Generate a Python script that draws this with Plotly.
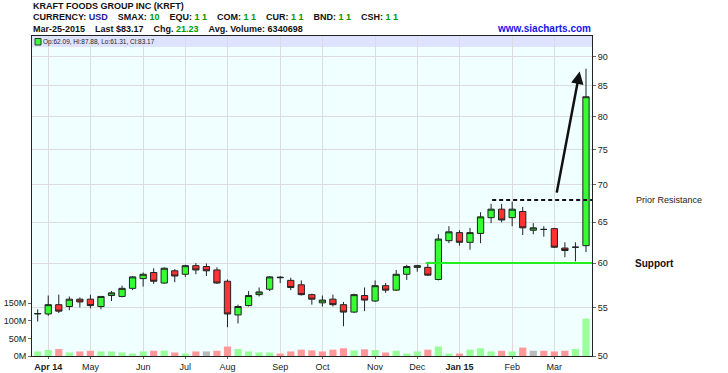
import math
import plotly.graph_objects as go

# ---------------- data ----------------
weeks = [
    "2014-03-24", "2014-03-31", "2014-04-07", "2014-04-14", "2014-04-21", "2014-04-28",
    "2014-05-05", "2014-05-12", "2014-05-19", "2014-05-26", "2014-06-02", "2014-06-09",
    "2014-06-16", "2014-06-23", "2014-06-30", "2014-07-07", "2014-07-14", "2014-07-21",
    "2014-07-28", "2014-08-04", "2014-08-11", "2014-08-18", "2014-08-25", "2014-09-01",
    "2014-09-08", "2014-09-15", "2014-09-22", "2014-09-29", "2014-10-06", "2014-10-13",
    "2014-10-20", "2014-10-27", "2014-11-03", "2014-11-10", "2014-11-17", "2014-11-24",
    "2014-12-01", "2014-12-08", "2014-12-15", "2014-12-22", "2014-12-29", "2015-01-05",
    "2015-01-12", "2015-01-19", "2015-01-26", "2015-02-02", "2015-02-09", "2015-02-16",
    "2015-02-23", "2015-03-02", "2015-03-09", "2015-03-16", "2015-03-23",
]
opens = [54.3, 54.3, 55.3, 55.1, 55.9, 55.9, 55.1, 56.3, 56.2, 57.1, 58.2, 58.9, 57.7,
         59.1, 58.7, 59.7, 59.6, 59.2, 57.9, 54.2, 55.2, 56.4, 57.0, 58.3, 58.0, 57.5,
         56.4, 55.5, 55.9, 55.3, 54.5, 56.3, 55.7, 57.4, 56.9, 58.7, 59.5, 59.5, 58.1,
         62.7, 63.7, 62.5, 63.6, 65.6, 66.7, 65.6, 66.4, 64.0, 64.1, 64.2, 61.8, 61.9, 62.09]
highs = [54.8, 56.3, 56.4, 56.2, 56.1, 56.4, 56.2, 56.8, 57.4, 58.5, 58.9, 59.4, 59.5,
         59.3, 59.8, 60.0, 59.95, 59.5, 58.1, 55.3, 56.8, 57.2, 58.5, 58.5, 58.3, 58.0,
         56.5, 56.3, 56.4, 55.6, 56.5, 57.2, 58.0, 57.7, 59.2, 59.8, 59.8, 60.0, 63.5,
         64.5, 64.0, 64.3, 66.3, 67.4, 67.4, 67.7, 67.0, 64.9, 64.5, 64.3, 62.5, 62.5, 87.88]
lows = [53.5, 54.1, 54.4, 54.7, 55.0, 54.9, 54.8, 55.7, 56.1, 56.9, 57.3, 57.6, 57.6,
        57.8, 58.4, 58.7, 58.5, 57.6, 52.9, 53.3, 55.1, 56.2, 56.8, 57.7, 56.9, 56.3,
        55.3, 55.1, 55.1, 53.0, 54.4, 54.6, 55.6, 56.6, 56.8, 58.05, 59.0, 58.5, 58.0,
        62.4, 62.1, 61.6, 62.4, 64.9, 65.0, 64.5, 63.4, 63.5, 63.2, 61.8, 60.7, 60.2, 61.31]
closes = [54.35, 55.3, 54.6, 55.9, 55.6, 55.2, 56.2, 56.6, 57.1, 58.4, 58.7, 57.9, 59.4,
          58.5, 59.7, 59.2, 59.1, 57.7, 54.3, 55.1, 56.3, 56.7, 58.4, 58.35, 57.2, 56.4,
          55.9, 55.8, 55.3, 54.5, 56.4, 55.8, 57.4, 56.9, 58.7, 59.6, 59.7, 58.6, 62.9,
          63.8, 62.5, 63.7, 65.7, 66.7, 65.3, 66.7, 64.3, 64.3, 64.1, 61.9, 61.5, 61.9, 83.17]
volumes_m = [13, 17, 20, 10, 13, 15, 13, 13, 10, 7, 13, 15, 15, 10, 7, 13, 13, 15, 27, 20,
             13, 10, 10, 7, 13, 18, 16, 13, 18, 22, 16, 19, 17, 10, 15, 7, 13, 18, 27, 7,
             7, 18, 22, 13, 15, 13, 24, 15, 15, 13, 15, 20, 106]
vol_dir = ["u", "u", "d", "u", "d", "d", "u", "u", "u", "u", "u", "d", "u", "d", "u", "d",
           "n", "d", "d", "u", "u", "u", "u", "d", "d", "d", "d", "d", "d", "d", "u", "d",
           "u", "d", "u", "u", "u", "d", "u", "u", "d", "u", "u", "u", "d", "u", "d", "n",
           "d", "d", "d", "u", "u"]

month_ticks = ["2014-03-31", "2014-04-28", "2014-06-02", "2014-06-30", "2014-07-28",
               "2014-09-01", "2014-09-29", "2014-11-03", "2014-12-01", "2014-12-29",
               "2015-02-02", "2015-03-02"]
month_labels = ["<b>Apr 14</b>", "May", "Jun", "Jul", "Aug", "Sep", "Oct", "Nov", "Dec",
                "<b>Jan 15</b>", "Feb", "Mar"]
price_ticks = [50, 55, 60, 65, 70, 75, 80, 85, 90]
vol_ticks_m = [0, 50, 100, 150]

support_level = 60
resistance_level = 67.9
arrow_from = (49.2, 68.7)
arrow_to = (51.4, 87.4)

# ---------------- styles ----------------
FONT = "Liberation Sans, Arial, sans-serif"
GREEN_BODY = "#33FF33"
RED_BODY = "#FF3333"
VOL_COL = {"u": "#99FF99", "d": "#FF9999", "n": "#BBBBBB"}

W, H = 728, 373
L, R, T, B = 32, 136, 36, 17
PW, PH = W - L - R, H - T - B


def px(xp):
    return (xp - L) / PW


def py(yp):
    return (H - B - yp) / PH


fig = go.Figure()

fig.add_trace(go.Bar(
    x=weeks, y=[v * 1e6 for v in volumes_m],
    marker=dict(color=[VOL_COL[d] for d in vol_dir], line=dict(width=0)),
    yaxis="y", hoverinfo="skip", showlegend=False,
))

fig.add_trace(go.Candlestick(
    x=weeks, open=opens, high=highs, low=lows, close=closes,
    yaxis="y2", showlegend=False,
    increasing=dict(fillcolor=GREEN_BODY, line=dict(color="#222222", width=1)),
    decreasing=dict(fillcolor=RED_BODY, line=dict(color="#222222", width=1)),
    whiskerwidth=0,
))

grid = "#DCDCDC"
fig.update_layout(
    width=W, height=H, autosize=False,
    margin=dict(l=L, r=R, t=T, b=B, pad=0, autoexpand=False),
    showlegend=False,
    paper_bgcolor="white",
    plot_bgcolor="#F0FFFF",
    bargap=0.32,
    boxgap=0.15,
    font=dict(family=FONT, size=9, color="#333333"),
    xaxis=dict(
        type="category", range=[-0.54, 52.57], automargin=False,
        tickmode="array", tickvals=month_ticks, ticktext=month_labels,
        showgrid=True, gridcolor=grid, gridwidth=1,
        showline=True, linecolor="#222222", linewidth=1, mirror=True,
        ticks="outside", ticklen=2, tickcolor="#666666",
        tickfont=dict(size=9, color="#222222"),
        rangeslider=dict(visible=False), fixedrange=True,
    ),
    yaxis=dict(
        range=[0, 910e6], side="left", automargin=False,
        tickmode="array", tickvals=[v * 1e6 for v in vol_ticks_m],
        ticktext=[f"{v}M" for v in vol_ticks_m],
        showgrid=False, zeroline=False,
        showline=True, linecolor="#222222", linewidth=1, mirror=True,
        ticks="outside", ticklen=3, tickcolor="#666666",
        tickfont=dict(size=9, color="#222222"),
    ),
    yaxis2=dict(
        type="log", range=[math.log10(50), math.log10(93.7)], automargin=False,
        overlaying="y", side="right",
        tickmode="array", tickvals=price_ticks, ticktext=[str(v) for v in price_ticks],
        showgrid=True, gridcolor=grid, gridwidth=1, zeroline=False,
        ticks="outside", ticklen=3, tickcolor="#666666",
        tickfont=dict(size=9, color="#222222"),
    ),
)

shapes = [
    # top info band
    dict(type="rect", xref="paper", yref="paper", x0=0, x1=1, y0=py(47), y1=1,
         fillcolor="#DEE4FF", line=dict(width=0), layer="below"),
    # legend square
    dict(type="rect", xref="paper", yref="paper", x0=px(35), x1=px(41), y0=py(45), y1=py(38.5),
         fillcolor=GREEN_BODY, line=dict(color="#333333", width=1)),
    # support line
    dict(type="line", xref="x", yref="y2", x0=36.8, x1=52.57, y0=support_level, y1=support_level,
         line=dict(color="#22EE22", width=2)),
    # prior resistance line
    dict(type="line", xref="x", yref="y2", x0=43.1, x1=52.57, y0=resistance_level, y1=resistance_level,
         line=dict(color="#111111", width=2, dash="4px,3px")),
]
fig.update_layout(shapes=shapes)

green = "#009900"
navy = "#1A1A99"
sp = "\u00a0"
gap = sp * 4

ann = []
ann.append(dict(xref="paper", yref="paper", x=px(31), y=py(6), xanchor="left", yanchor="middle",
                text="<b>KRAFT FOODS GROUP INC (KRFT)</b>", showarrow=False,
                font=dict(size=9, color="#111111", family=FONT)))
g11 = f"<span style='color:{green}'>1{sp}1</span>"
line2 = (f"<b>CURRENCY:{sp}<span style='color:{navy}'>USD</span>{gap}SMAX:{sp}"
         f"<span style='color:{green}'>10</span>{gap}EQU:{sp}{g11}{gap}COM:{sp}{g11}{gap}"
         f"CUR:{sp}{g11}{gap}BND:{sp}{g11}{gap}CSH:{sp}{g11}</b>")
ann.append(dict(xref="paper", yref="paper", x=px(31), y=py(17), xanchor="left", yanchor="middle",
                text=line2, showarrow=False, font=dict(size=9, color="#111111", family=FONT)))
line3 = (f"<b>Mar-25-2015{gap}Last{sp}$83.17{gap}Chg.{sp}<span style='color:{green}'>21.23</span>"
         f"{gap}Avg.{sp}Volume:{sp}6340698</b>")
ann.append(dict(xref="paper", yref="paper", x=px(31), y=py(29), xanchor="left", yanchor="middle",
                text=line3, showarrow=False, font=dict(size=9, color="#111111", family=FONT)))
ann.append(dict(xref="paper", yref="paper", x=px(593), y=py(29), xanchor="right", yanchor="middle",
                text="<b>www.siacharts.com</b>", showarrow=False,
                font=dict(size=10, color="#1515EE", family=FONT)))
ann.append(dict(xref="paper", yref="paper", x=px(41), y=py(41.8), xanchor="left", yanchor="middle",
                text=f"Op:{opens[-1]:.2f},{sp}Hi:{highs[-1]:.2f},{sp}Lo:{lows[-1]:.2f},{sp}Cl:{closes[-1]:.2f}",
                showarrow=False,
                font=dict(size=6.5, color="#222222",
                          family="Liberation Sans Narrow, Arial Narrow, Liberation Sans, Arial")))
ann.append(dict(xref="paper", yref="y2", x=px(634), y=math.log10(resistance_level),
                xanchor="left", yanchor="middle", text="Prior Resistance", showarrow=False,
                font=dict(size=9, color="#222222", family=FONT)))
ann.append(dict(xref="paper", yref="y2", x=px(633), y=math.log10(support_level),
                xanchor="left", yanchor="middle", text="<b>Support</b>", showarrow=False,
                font=dict(size=10, color="#111111", family=FONT)))
ann.append(dict(xref="x", yref="y2", x=arrow_to[0], y=math.log10(arrow_to[1]),
                axref="x", ayref="y2", ax=arrow_from[0], ay=math.log10(arrow_from[1]),
                text="", showarrow=True, arrowhead=2, arrowsize=1, arrowwidth=2.5,
                arrowcolor="#111111"))
fig.update_layout(annotations=ann)

fig.write_html("out.html")
